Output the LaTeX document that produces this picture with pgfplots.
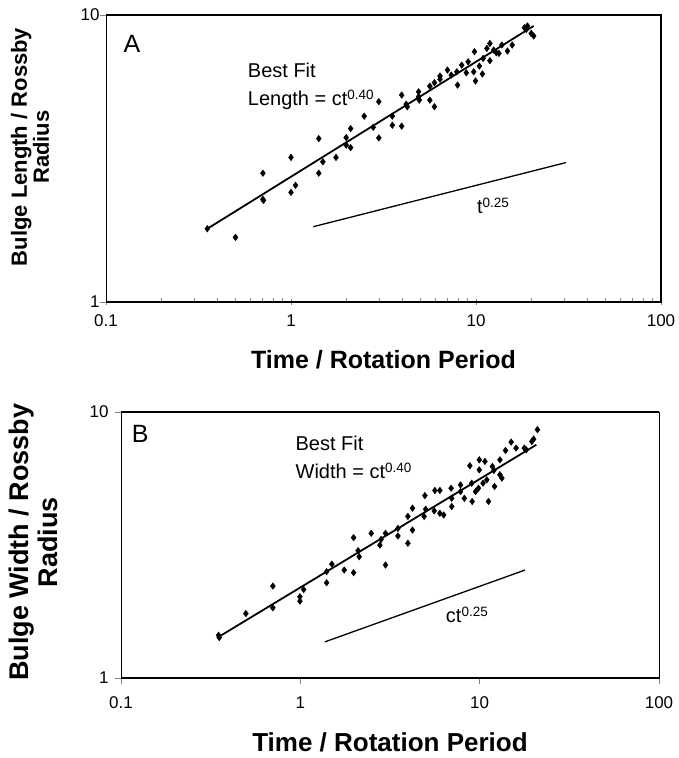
\documentclass[border=0pt]{standalone}
\usepackage{fontspec}
\setmainfont{Liberation Sans}
\usepackage{pgfplots}
\usepackage{pgfplotstable}
\pgfplotsset{compat=1.18}

\pgfplotstableread{
t L
0.353 1.80
0.501 1.68
0.705 2.81
0.705 2.28
0.71 2.26
1.00 3.19
1.00 2.41
1.058 2.55
1.413 3.71
1.413 2.81
1.487 3.08
1.751 3.19
1.988 3.74
1.988 3.52
2.10 3.45
2.10 4.02
2.487 4.44
2.781 4.06
2.983 4.99
2.983 3.73
3.529 4.44
3.529 4.13
3.965 5.26
3.965 4.10
4.195 4.89
4.25 4.79
4.894 5.40
4.894 5.19
4.94 5.05
5.63 5.05
5.96 4.79
5.63 5.65
5.96 5.81
6.39 5.97
6.39 6.13
7.01 6.43
7.35 6.18
7.95 5.70
7.88 6.34
8.37 6.69
8.86 6.29
9.07 6.87
9.81 7.45
9.72 6.34
9.94 5.89
10.43 6.64
10.83 6.23
10.93 7.06
11.45 7.65
11.89 7.96
11.89 6.93
12.46 7.55
12.87 7.39
13.3 7.35
13.8 7.86
14.8 7.49
15.7 7.86
18.27 9.03
18.7 8.91
18.97 9.16
19.87 8.63
20.5 8.45
}\dataA

\pgfplotstableread{
t W
0.350 1.448
0.353 1.419
0.497 1.747
0.703 2.216
0.703 1.836
0.995 2.02
0.995 1.945
1.044 2.152
1.401 2.28
1.401 2.51
1.499 2.68
1.757 2.546
1.982 2.488
1.982 3.37
2.10 3.01
2.13 2.858
2.485 3.50
2.777 3.16
2.82 3.32
2.985 2.66
2.985 3.50
3.50 3.42
3.50 3.65
3.98 3.21
3.98 4.05
4.22 3.60
4.22 4.35
4.90 4.05
4.95 4.85
5.0 4.31
5.63 5.07
6.00 5.07
5.58 4.25
6.00 4.16
6.30 4.10
6.93 5.17
6.99 4.41
6.99 4.74
7.82 5.32
7.82 5.02
8.21 4.74
8.82 6.28
9.03 5.40
9.08 4.61
9.48 5.02
9.95 6.61
9.95 6.06
9.85 5.17
10.7 6.52
10.44 5.40
10.96 5.56
11.2 4.61
11.78 6.24
12.1 5.25
12.0 6.03
12.97 6.61
12.97 5.81
13.3 5.64
13.94 7.17
14.99 7.71
15.96 7.32
17.74 7.32
18.2 7.21
19.54 7.75
20.0 7.91
21.0 8.58
}\dataB

\newcommand{\sups}[1]{\raisebox{6pt}{\fontsize{13.5}{13.5}\selectfont #1}}

\begin{document}
\begin{tikzpicture}
\path[use as bounding box] (0pt,0pt) rectangle (678pt,758pt);
\begin{axis}[
  scale only axis,
  xmode=log, ymode=log,
  xmin=0.1, xmax=100, ymin=1, ymax=10,
  axis line style={line width=0.8pt},
  xtick={0.1,1,10,100},
  xticklabels={\mbox{0.1},\mbox{1},\mbox{10},\mbox{100}},
  ytick={1,10},
  yticklabels={\mbox{1},\mbox{10}},
  yminorticks=false,
  xtick pos=bottom, ytick pos=left,
  ticklabel style={font=\fontsize{17}{17}\selectfont},
  xticklabel style={yshift=-9pt},
  yticklabel style={xshift=-3pt},
  tick style={line width=0.8pt},
  tick align=inside,
  major tick length=6pt, minor tick length=4pt,
  every major x tick/.append style={yshift=-3pt},
  every major y tick/.append style={xshift=-6pt},
  clip=false,
  at={(106pt,456pt)}, anchor=south west,
  width=555pt, height=287pt,
  minor xtick={0.2,0.3,0.4,0.5,0.6,0.7,0.8,0.9,2,3,4,5,6,7,8,9,20,30,40,50,60,70,80,90},
  xlabel={Time / Rotation Period},
  xlabel style={font=\fontsize{25}{25}\selectfont\bfseries, at={(axis description cs:0.5,-0.2)}, anchor=center},
  ylabel={Bulge Length / Rossby\\Radius},
  ylabel style={font=\fontsize{22}{22}\selectfont\bfseries, align=center, at={(axis description cs:-0.137,0.54)}, anchor=center},
]
\addplot[only marks, mark=diamond*, mark size=3.3pt, black] table[x=t,y=L] {\dataA};
\addplot[black, line width=1.8pt, no marks] coordinates {(0.353,1.80) (20.5,9.16)};
\addplot[black, line width=1.3pt, no marks] coordinates {(1.32,1.83) (30.6,3.06)};
\draw[line width=2pt] (rel axis cs:0,0) -- (rel axis cs:1,0) -- (rel axis cs:1,1) -- (rel axis cs:0,1);
\node[font=\fontsize{25}{25}\selectfont, anchor=center] at (axis cs:0.138,7.9) {A};
\node[font=\fontsize{20}{20}\selectfont, anchor=west] at (axis cs:0.56,6.43) {Best Fit};
\node[font=\fontsize{20}{20}\selectfont, anchor=west] at (axis cs:0.56,5.05) {Length = ct\sups{0.40}};
\node[font=\fontsize{20}{20}\selectfont, anchor=west] at (axis cs:9.7,2.17) {t\sups{0.25}};
\end{axis}

\begin{axis}[
  scale only axis,
  xmode=log, ymode=log,
  xmin=0.1, xmax=100, ymin=1, ymax=10,
  axis line style={line width=0.8pt},
  xtick={0.1,1,10,100},
  xticklabels={\mbox{0.1},\mbox{1},\mbox{10},\mbox{100}},
  ytick={1,10},
  yticklabels={\mbox{1},\mbox{10}},
  yminorticks=false,
  xminorticks=false,
  xtick pos=bottom, ytick pos=left,
  ticklabel style={font=\fontsize{17}{17}\selectfont},
  xticklabel style={yshift=-9pt},
  yticklabel style={xshift=-3pt},
  tick style={line width=0.8pt},
  tick align=outside,
  major tick length=6pt,
  clip=false,
  at={(121pt,80pt)}, anchor=south west,
  width=538pt, height=266pt,
  xlabel={Time / Rotation Period},
  xlabel style={font=\fontsize{26}{26}\selectfont\bfseries, at={(axis description cs:0.5,-0.24)}, anchor=center},
  ylabel={Bulge Width / Rossby\\Radius},
  ylabel style={font=\fontsize{27}{29}\selectfont\bfseries, align=center, at={(axis description cs:-0.162,0.51)}, anchor=center},
]
\addplot[only marks, mark=diamond*, mark size=3.3pt, black] table[x=t,y=W] {\dataB};
\addplot[black, line width=1.8pt, no marks] coordinates {(0.350,1.427) (20.7,7.53)};
\addplot[black, line width=1.3pt, no marks] coordinates {(1.37,1.367) (17.9,2.546)};
\draw[line width=2pt] (rel axis cs:0,0) -- (rel axis cs:1,0);
\draw[line width=2pt] (rel axis cs:0,1) -- (rel axis cs:1,1);
\node[font=\fontsize{25}{25}\selectfont, anchor=center] at (axis cs:0.128,8.3) {B};
\node[font=\fontsize{20}{20}\selectfont, anchor=west] at (axis cs:0.90,7.64) {Best Fit};
\node[font=\fontsize{20}{20}\selectfont, anchor=west] at (axis cs:0.90,6.0) {Width = ct\sups{0.40}};
\node[font=\fontsize{20}{20}\selectfont, anchor=west] at (axis cs:6.2,1.72) {ct\sups{0.25}};
\end{axis}
\end{tikzpicture}
\end{document}
